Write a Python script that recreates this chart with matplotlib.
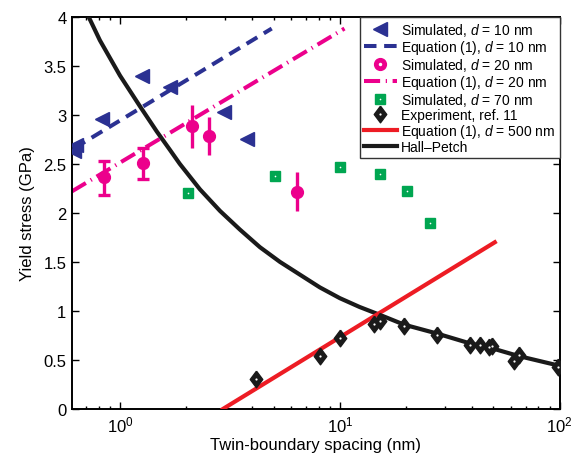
"""Yield stress vs twin-boundary spacing: simulations, Equation (1) and Hall-Petch."""
import matplotlib
matplotlib.use("Agg")
import matplotlib.pyplot as plt   # noqa: E402
from matplotlib.ticker import FuncFormatter, LogLocator, MultipleLocator  # noqa: E402

plt.rcParams["font.family"] = ["Liberation Sans", "DejaVu Sans"]
plt.rcParams["mathtext.fontset"] = "custom"
plt.rcParams["mathtext.rm"] = "Liberation Sans"
plt.rcParams["mathtext.it"] = "Liberation Sans:italic"

BLUE = "#2b3192"
PINK = "#ec008c"
GREEN = "#00a651"
RED = "#ed1c24"

# simulated, d = 10 nm
sim10_x = [0.63, 0.62, 0.83, 1.26, 1.69, 2.97, 3.78]
sim10_y = [2.69, 2.63, 2.96, 3.40, 3.28, 3.03, 2.75]
# equation (1), d = 10 nm (straight on log axis)
eq10_x = [0.62, 4.9]
eq10_y = [2.66, 3.88]
# simulated, d = 20 nm
sim20_x = [0.845, 1.27, 2.12, 2.54, 6.37]
sim20_y = [2.37, 2.51, 2.89, 2.78, 2.21]
sim20_lo = [0.19, 0.16, 0.23, 0.19, 0.19]
sim20_hi = [0.16, 0.15, 0.21, 0.20, 0.21]
# equation (1), d = 20 nm
eq20_x = [0.605, 10.5]
eq20_y = [2.22, 3.88]
# simulated, d = 70 nm
sim70_x = [2.04, 5.06, 10.0, 15.2, 20.3, 25.7]
sim70_y = [2.20, 2.38, 2.47, 2.40, 2.22, 1.90]
# experiment, ref. 11
exp_x = [4.15, 8.1, 10.0, 14.3, 15.2, 19.6, 27.6, 38.9, 43.6, 47.6, 49.0, 61.7, 65.0, 98.0]
exp_y = [0.31, 0.54, 0.72, 0.87, 0.90, 0.85, 0.755, 0.65, 0.65, 0.63, 0.64, 0.49, 0.55, 0.43]
# equation (1), d = 500 nm
eq500_x = [2.94, 50.7]
eq500_y = [0.0, 1.70]
# Hall-Petch
hp_x = [0.72, 0.81, 1.0, 1.23, 1.47, 1.69, 1.87, 2.31, 2.85, 3.51, 4.33, 5.34, 6.58,
        8.11, 10.0, 12.3, 15.2, 19.6, 27.6, 38.9, 49.0, 65.0, 100.0]
hp_y = [4.0, 3.76, 3.40, 3.09, 2.83, 2.64, 2.50, 2.24, 2.02, 1.83, 1.65, 1.50, 1.37,
        1.24, 1.13, 1.04, 0.96, 0.86, 0.77, 0.67, 0.62, 0.54, 0.44]

diamond = [(0, 1), (0.75, 0), (0, -1), (-0.75, 0), (0, 1)]

fig = plt.figure(figsize=(5.73, 4.56), dpi=100)
ax = fig.add_axes([0.1257, 0.101, 0.851, 0.860])
ax.set_xscale("log")

hp, = ax.plot(hp_x, hp_y, color="#1a1a1a", lw=3.0, zorder=3, solid_joinstyle="round")
e500, = ax.plot(eq500_x, eq500_y, color=RED, lw=3.0, zorder=3)
e10, = ax.plot(eq10_x, eq10_y, color=BLUE, lw=2.9, ls=(0, (3.1, 1.9)), zorder=2)
e20, = ax.plot(eq20_x, eq20_y, color=PINK, lw=2.9, ls=(0, (4.0, 1.4, 0.3, 1.4)), zorder=2)

s10, = ax.plot(sim10_x, sim10_y, ls="none", marker="<", ms=10.5, color=BLUE, zorder=5)

ax.errorbar(sim20_x[:2], sim20_y[:2], yerr=[sim20_lo[:2], sim20_hi[:2]], fmt="none",
            ecolor=PINK, elinewidth=2.4, capsize=4.5, capthick=2.4, zorder=4)
ax.errorbar(sim20_x[2:], sim20_y[2:], yerr=[sim20_lo[2:], sim20_hi[2:]], fmt="none",
            ecolor=PINK, elinewidth=2.4, capsize=0, zorder=4)
s20, = ax.plot(sim20_x, sim20_y, ls="none", marker="o", ms=8.5, color=PINK, zorder=5)

s70, = ax.plot(sim70_x, sim70_y, ls="none", marker="s", ms=6.5, color=GREEN, zorder=5)
s70d, = ax.plot(sim70_x, sim70_y, ls="none", marker="o", ms=1.2, color="white",
                markeredgewidth=0, zorder=6)

ex, = ax.plot(exp_x, exp_y, ls="none", marker=diamond, ms=12, color="#1a1a1a", zorder=5)
exd, = ax.plot(exp_x, exp_y, ls="none", marker="o", ms=1.6, color="white",
               markeredgewidth=0, zorder=6)

# legend-only ring for the d = 20 nm circles
s20l, = ax.plot([], [], ls="none", marker="o", ms=8.5, color=PINK)
s20ld, = ax.plot([], [], ls="none", marker="o", ms=2.5, color="white", markeredgewidth=0)

ax.set_xlim(0.605, 100)
ax.set_ylim(0, 4)
ax.yaxis.set_major_locator(MultipleLocator(0.5))
ax.yaxis.set_major_formatter(FuncFormatter(lambda v, p: f"{v:g}"))
ax.xaxis.set_major_locator(LogLocator(base=10, numticks=10))
ax.xaxis.set_minor_locator(LogLocator(base=10, subs=range(2, 10), numticks=20))
ax.tick_params(which="both", direction="in", top=True, right=True, labelsize=12,
               width=1.0, pad=4)
ax.tick_params(which="major", length=5)
ax.tick_params(which="minor", length=2.5)
for s in ax.spines.values():
    s.set_linewidth(1.4)

ax.set_xlabel("Twin-boundary spacing (nm)", fontsize=12, labelpad=2)
ax.set_ylabel("Yield stress (GPa)", fontsize=12, labelpad=6)

handles = [s10, e10, (s20l, s20ld), e20, (s70, s70d), (ex, exd), e500, hp]
labels = [r"Simulated, $d$ = 10 nm", r"Equation (1), $d$ = 10 nm",
          r"Simulated, $d$ = 20 nm", r"Equation (1), $d$ = 20 nm",
          r"Simulated, $d$ = 70 nm", "Experiment, ref. 11",
          r"Equation (1), $d$ = 500 nm", "Hall\u2013Petch"]
leg = ax.legend(handles, labels, loc="upper right", borderaxespad=0, fontsize=10,
                handlelength=2.4, handletextpad=0.3, labelspacing=0.0,
                borderpad=0.3, fancybox=False, framealpha=1, edgecolor="#333333")
leg.get_frame().set_linewidth(1.0)

fig.savefig("out.png", dpi=100)
